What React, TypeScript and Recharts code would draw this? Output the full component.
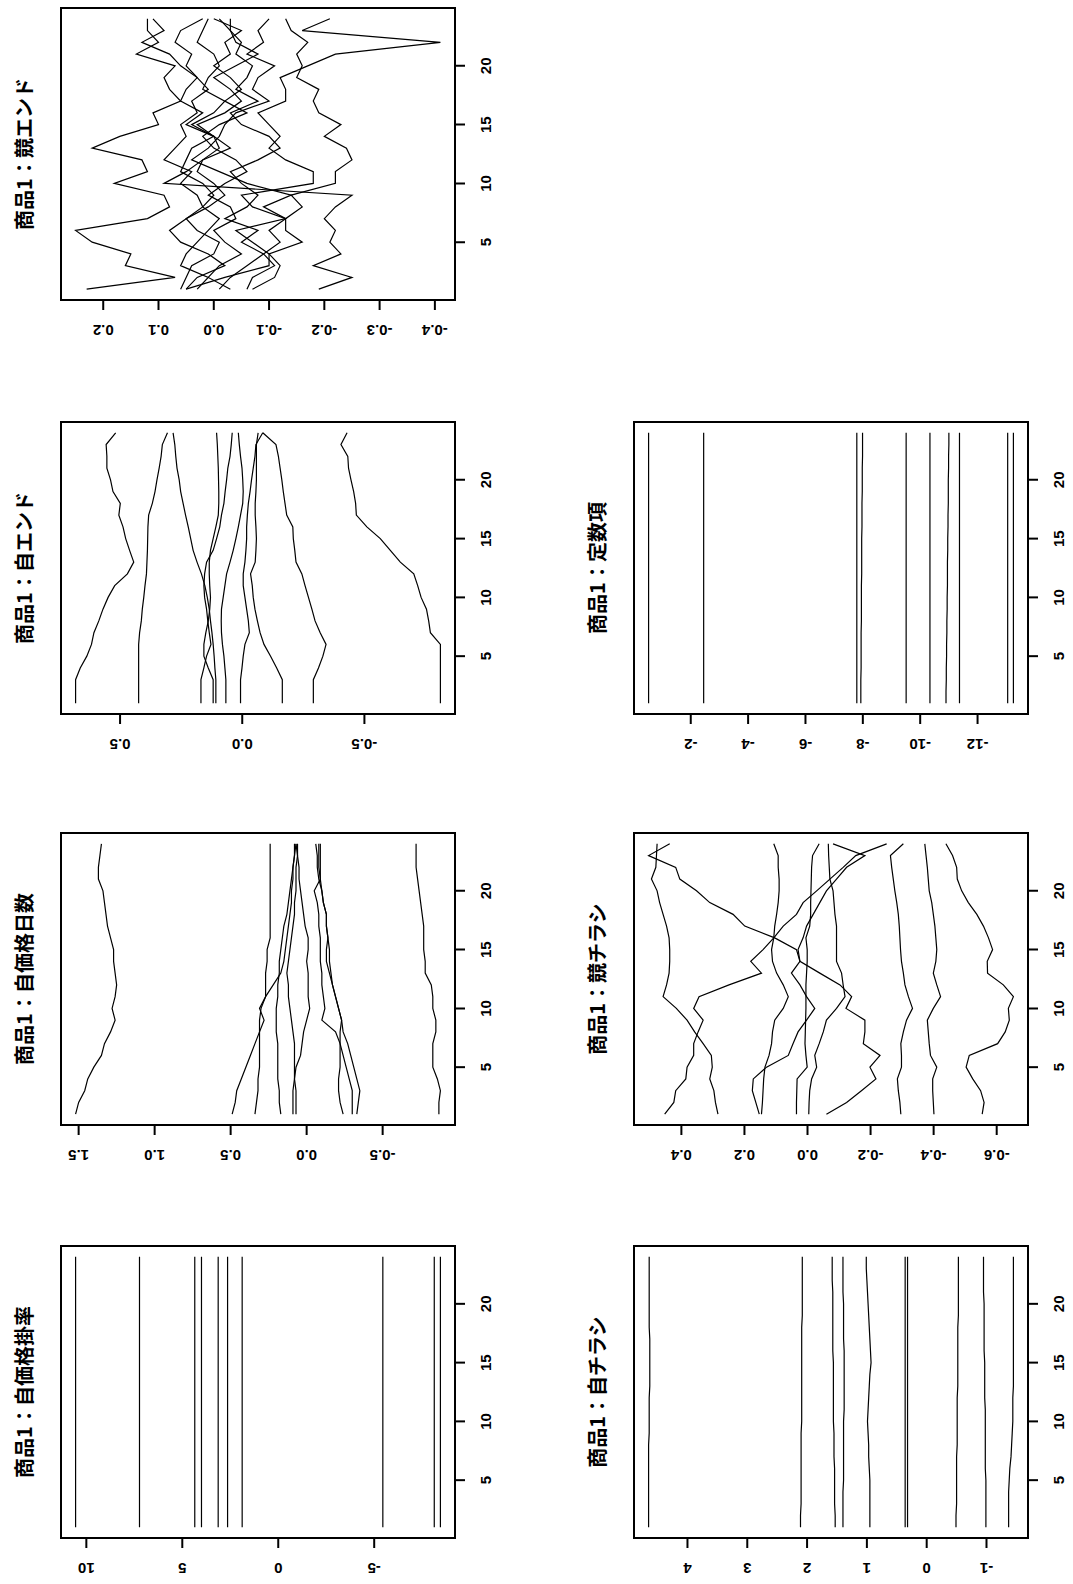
import { LineChart, Line, XAxis, YAxis, ReferenceArea } from 'recharts';

// time index shared by every panel
const periods = [1, 2, 3, 4, 5, 6, 7, 8, 9, 10, 11, 12, 13, 14, 15, 16, 17, 18, 19, 20, 21, 22, 23, 24];
const periodTicks = [5, 10, 15, 20];

// 商品1：自価格掛率
const ownPriceRate = [
  [10.56, 10.56, 10.56, 10.56, 10.56, 10.56, 10.56, 10.56, 10.56, 10.56, 10.56, 10.56, 10.56, 10.56, 10.56, 10.56, 10.56, 10.56, 10.56, 10.56, 10.56, 10.56, 10.56, 10.56],
  [7.23, 7.23, 7.23, 7.23, 7.23, 7.23, 7.23, 7.23, 7.23, 7.23, 7.23, 7.23, 7.23, 7.23, 7.23, 7.23, 7.23, 7.23, 7.23, 7.23, 7.23, 7.23, 7.23, 7.23],
  [4.35, 4.35, 4.35, 4.35, 4.35, 4.35, 4.35, 4.35, 4.35, 4.35, 4.35, 4.35, 4.35, 4.35, 4.35, 4.35, 4.35, 4.35, 4.35, 4.35, 4.35, 4.35, 4.35, 4.35],
  [4.0, 4.0, 4.0, 4.0, 4.0, 4.0, 4.0, 4.0, 4.0, 4.0, 4.0, 4.0, 4.0, 4.0, 4.0, 4.0, 4.0, 4.0, 4.0, 4.0, 4.0, 4.0, 4.0, 4.0],
  [3.13, 3.13, 3.13, 3.13, 3.13, 3.13, 3.13, 3.13, 3.13, 3.13, 3.13, 3.13, 3.13, 3.13, 3.13, 3.13, 3.13, 3.13, 3.13, 3.13, 3.13, 3.13, 3.13, 3.13],
  [2.64, 2.64, 2.64, 2.64, 2.64, 2.64, 2.64, 2.64, 2.64, 2.64, 2.64, 2.64, 2.64, 2.64, 2.64, 2.64, 2.64, 2.64, 2.64, 2.64, 2.64, 2.64, 2.64, 2.64],
  [1.88, 1.88, 1.88, 1.88, 1.88, 1.88, 1.88, 1.88, 1.88, 1.88, 1.88, 1.88, 1.88, 1.88, 1.88, 1.88, 1.88, 1.88, 1.88, 1.88, 1.88, 1.88, 1.88, 1.88],
  [-5.45, -5.45, -5.45, -5.45, -5.45, -5.45, -5.45, -5.45, -5.45, -5.45, -5.45, -5.45, -5.45, -5.45, -5.45, -5.45, -5.45, -5.45, -5.45, -5.45, -5.45, -5.45, -5.45, -5.45],
  [-8.13, -8.13, -8.13, -8.13, -8.13, -8.13, -8.13, -8.13, -8.13, -8.13, -8.13, -8.13, -8.13, -8.13, -8.13, -8.13, -8.13, -8.13, -8.13, -8.13, -8.13, -8.13, -8.13, -8.13],
  [-8.45, -8.45, -8.45, -8.45, -8.45, -8.45, -8.45, -8.45, -8.45, -8.45, -8.45, -8.45, -8.45, -8.45, -8.45, -8.45, -8.45, -8.45, -8.45, -8.45, -8.45, -8.45, -8.45, -8.45],
];

// 商品1：自価格日数
const ownPriceDays = [
  [1.52, 1.5, 1.46, 1.44, 1.4, 1.35, 1.33, 1.29, 1.26, 1.28, 1.26, 1.25, 1.26, 1.27, 1.27, 1.29, 1.31, 1.32, 1.33, 1.34, 1.37, 1.37, 1.36, 1.35],
  [0.49, 0.47, 0.46, 0.43, 0.4, 0.37, 0.34, 0.31, 0.28, 0.31, 0.27, 0.22, 0.17, 0.15, 0.14, 0.13, 0.12, 0.11, 0.1, 0.1, 0.09, 0.09, 0.08, 0.08],
  [0.34, 0.33, 0.32, 0.32, 0.31, 0.31, 0.31, 0.31, 0.31, 0.3, 0.27, 0.27, 0.27, 0.26, 0.26, 0.24, 0.24, 0.24, 0.24, 0.24, 0.24, 0.24, 0.24, 0.24],
  [0.17, 0.18, 0.18, 0.19, 0.19, 0.19, 0.19, 0.2, 0.2, 0.2, 0.19, 0.19, 0.18, 0.18, 0.17, 0.16, 0.15, 0.13, 0.12, 0.11, 0.1, 0.09, 0.08, 0.07],
  [0.09, 0.09, 0.09, 0.08, 0.07, 0.04, 0.03, 0.02, 0.0, -0.02, -0.01, -0.01, -0.01, 0.0, -0.01, -0.01, 0.01, 0.02, 0.03, 0.04, 0.05, 0.05, 0.06, 0.07],
  [0.07, 0.07, 0.07, 0.08, 0.08, 0.08, 0.08, 0.09, 0.1, 0.11, 0.12, 0.12, 0.13, 0.12, 0.11, 0.1, 0.09, 0.08, 0.08, 0.07, 0.07, 0.07, 0.06, 0.06],
  [-0.24, -0.22, -0.21, -0.21, -0.22, -0.22, -0.22, -0.22, -0.23, -0.21, -0.19, -0.17, -0.16, -0.15, -0.15, -0.14, -0.13, -0.13, -0.11, -0.1, -0.09, -0.08, -0.08, -0.08],
  [-0.3, -0.3, -0.3, -0.28, -0.26, -0.24, -0.22, -0.19, -0.1, -0.12, -0.11, -0.1, -0.1, -0.09, -0.09, -0.09, -0.08, -0.08, -0.07, -0.05, -0.09, -0.09, -0.09, -0.09],
  [-0.33, -0.34, -0.35, -0.33, -0.31, -0.29, -0.27, -0.24, -0.23, -0.21, -0.19, -0.17, -0.15, -0.13, -0.13, -0.14, -0.13, -0.13, -0.11, -0.1, -0.08, -0.07, -0.07, -0.06],
  [-0.87, -0.87, -0.88, -0.86, -0.83, -0.83, -0.83, -0.85, -0.85, -0.83, -0.83, -0.82, -0.78, -0.78, -0.77, -0.77, -0.77, -0.76, -0.75, -0.74, -0.73, -0.72, -0.72, -0.72],
];

// 商品1：自エンド
const ownEnd = [
  [0.682, 0.682, 0.682, 0.663, 0.636, 0.617, 0.607, 0.587, 0.57, 0.549, 0.522, 0.47, 0.444, 0.461, 0.477, 0.488, 0.505, 0.499, 0.529, 0.539, 0.554, 0.554, 0.557, 0.518],
  [0.424, 0.424, 0.424, 0.424, 0.424, 0.424, 0.42, 0.413, 0.409, 0.403, 0.398, 0.392, 0.39, 0.388, 0.387, 0.386, 0.383, 0.368, 0.357, 0.349, 0.34, 0.332, 0.327, 0.306],
  [0.108, 0.108, 0.108, 0.112, 0.115, 0.119, 0.124, 0.13, 0.135, 0.143, 0.153, 0.167, 0.185, 0.201, 0.211, 0.221, 0.232, 0.242, 0.252, 0.258, 0.267, 0.272, 0.276, 0.283],
  [0.119, 0.119, 0.119, 0.139, 0.157, 0.157, 0.149, 0.139, 0.133, 0.13, 0.133, 0.135, 0.135, 0.13, 0.119, 0.108, 0.098, 0.096, 0.096, 0.097, 0.098, 0.1, 0.102, 0.105],
  [0.169, 0.169, 0.169, 0.157, 0.146, 0.128, 0.135, 0.141, 0.146, 0.154, 0.157, 0.154, 0.146, 0.119, 0.105, 0.092, 0.085, 0.075, 0.07, 0.064, 0.059, 0.05, 0.045, 0.041],
  [0.067, 0.067, 0.067, 0.071, 0.075, 0.081, 0.085, 0.086, 0.085, 0.078, 0.071, 0.064, 0.05, 0.037, 0.026, 0.016, 0.007, -0.002, -0.004, -0.002, 0.001, 0.007, 0.012, 0.016],
  [0.007, 0.007, 0.007, 0.001, -0.004, -0.011, -0.029, -0.025, -0.018, -0.011, -0.004, -0.004, -0.011, -0.015, -0.018, -0.018, -0.021, -0.025, -0.032, -0.038, -0.045, -0.052, -0.056, -0.084],
  [-0.164, -0.164, -0.164, -0.141, -0.116, -0.089, -0.073, -0.062, -0.052, -0.045, -0.041, -0.034, -0.053, -0.056, -0.058, -0.056, -0.053, -0.053, -0.056, -0.058, -0.058, -0.058, -0.058, -0.065],
  [-0.291, -0.291, -0.291, -0.312, -0.33, -0.343, -0.319, -0.298, -0.285, -0.271, -0.257, -0.244, -0.22, -0.215, -0.209, -0.207, -0.182, -0.175, -0.168, -0.162, -0.155, -0.148, -0.138, -0.084],
  [-0.811, -0.811, -0.811, -0.811, -0.811, -0.811, -0.77, -0.763, -0.754, -0.732, -0.718, -0.702, -0.647, -0.606, -0.565, -0.51, -0.467, -0.464, -0.456, -0.445, -0.435, -0.432, -0.404, -0.429],
];

// 商品1：競エンド
const rivalEnd = [
  [0.23, 0.07, 0.16, 0.15, 0.22, 0.25, 0.12, 0.08, 0.09, 0.18, 0.12, 0.13, 0.22, 0.17, 0.1, 0.11, 0.06, 0.08, 0.09, 0.07, 0.14, 0.1, 0.12, 0.12],
  [0.05, 0.03, -0.02, 0.01, 0.06, 0.08, 0.05, 0.02, 0.03, 0.06, 0.04, 0.09, 0.07, 0.05, 0.06, 0.03, 0.04, 0.01, 0.03, 0.06, 0.08, 0.13, 0.09, 0.11],
  [0.06, 0.05, 0.04, 0.0, -0.01, 0.03, 0.05, 0.01, -0.02, 0.0, 0.03, 0.02, -0.03, 0.0, 0.05, 0.02, 0.06, 0.05, 0.03, 0.05, 0.04, 0.07, 0.06, 0.02],
  [0.03, 0.01, 0.06, 0.05, 0.03, 0.01, -0.01, 0.02, 0.0, 0.02, 0.06, 0.05, 0.04, 0.0, 0.04, 0.0, -0.02, 0.02, 0.01, -0.01, 0.0, 0.03, 0.02, 0.01],
  [-0.01, -0.03, -0.06, -0.09, -0.12, -0.1, -0.13, -0.07, -0.05, -0.18, -0.18, -0.13, -0.1, -0.12, -0.1, -0.08, -0.13, -0.13, -0.12, -0.17, -0.22, -0.41, -0.16, -0.21],
  [-0.03, 0.01, -0.01, -0.05, -0.02, 0.0, -0.04, -0.03, 0.01, -0.02, -0.06, -0.04, 0.0, 0.02, -0.01, -0.06, -0.02, -0.05, -0.03, 0.0, -0.03, -0.02, -0.05, 0.0],
  [-0.06, -0.07, -0.11, -0.09, -0.05, -0.08, -0.02, -0.06, -0.08, -0.05, -0.03, -0.08, -0.12, -0.1, -0.05, -0.03, -0.08, -0.04, -0.06, -0.07, -0.04, -0.05, -0.03, -0.03],
  [-0.07, -0.11, -0.12, -0.1, -0.07, -0.04, -0.13, -0.09, -0.14, -0.06, -0.01, 0.04, 0.01, -0.01, -0.02, -0.04, -0.1, -0.07, -0.08, -0.11, -0.06, -0.09, -0.08, -0.1],
  [-0.19, -0.25, -0.18, -0.23, -0.21, -0.22, -0.2, -0.22, -0.25, 0.09, 0.05, 0.02, -0.01, 0.0, 0.03, -0.02, -0.05, -0.03, 0.0, -0.04, -0.08, -0.04, -0.03, -0.01],
  [0.05, -0.02, -0.1, -0.1, -0.16, -0.13, -0.13, -0.16, -0.14, -0.22, -0.22, -0.25, -0.24, -0.2, -0.23, -0.19, -0.18, -0.19, -0.15, -0.16, -0.15, -0.17, -0.14, -0.13],
];

// 商品1：自チラシ
const ownFlyer = [
  [4.65, 4.65, 4.65, 4.65, 4.65, 4.65, 4.65, 4.65, 4.64, 4.64, 4.64, 4.64, 4.63, 4.63, 4.63, 4.63, 4.63, 4.64, 4.64, 4.64, 4.64, 4.64, 4.64, 4.64],
  [2.11, 2.11, 2.1, 2.1, 2.1, 2.1, 2.1, 2.1, 2.1, 2.09, 2.09, 2.09, 2.09, 2.09, 2.09, 2.09, 2.09, 2.09, 2.08, 2.08, 2.08, 2.08, 2.08, 2.08],
  [1.53, 1.53, 1.54, 1.54, 1.54, 1.54, 1.55, 1.55, 1.55, 1.56, 1.56, 1.56, 1.56, 1.56, 1.56, 1.57, 1.57, 1.57, 1.57, 1.57, 1.57, 1.58, 1.58, 1.58],
  [1.4, 1.4, 1.4, 1.4, 1.39, 1.39, 1.39, 1.39, 1.39, 1.39, 1.38, 1.38, 1.38, 1.38, 1.38, 1.38, 1.39, 1.39, 1.39, 1.39, 1.4, 1.4, 1.4, 1.4],
  [0.95, 0.95, 0.95, 0.95, 0.95, 0.96, 0.97, 0.97, 0.98, 0.99, 0.98, 0.97, 0.96, 0.95, 0.93, 0.94, 0.95, 0.96, 0.97, 0.98, 0.99, 1.0, 1.01, 1.01],
  [0.36, 0.36, 0.36, 0.36, 0.36, 0.36, 0.36, 0.36, 0.36, 0.36, 0.36, 0.36, 0.36, 0.36, 0.36, 0.36, 0.36, 0.36, 0.36, 0.36, 0.36, 0.36, 0.36, 0.36],
  [0.32, 0.32, 0.32, 0.32, 0.32, 0.32, 0.32, 0.32, 0.32, 0.32, 0.32, 0.32, 0.32, 0.32, 0.32, 0.32, 0.32, 0.32, 0.32, 0.32, 0.32, 0.32, 0.32, 0.32],
  [-0.49, -0.49, -0.5, -0.5, -0.5, -0.5, -0.5, -0.51, -0.51, -0.51, -0.51, -0.51, -0.52, -0.52, -0.52, -0.52, -0.52, -0.52, -0.53, -0.53, -0.53, -0.53, -0.53, -0.53],
  [-0.99, -0.99, -0.99, -0.99, -0.99, -0.98, -0.98, -0.98, -0.98, -0.98, -0.98, -0.97, -0.97, -0.97, -0.97, -0.96, -0.96, -0.96, -0.96, -0.96, -0.95, -0.95, -0.95, -0.95],
  [-1.37, -1.37, -1.37, -1.37, -1.38, -1.39, -1.41, -1.42, -1.43, -1.44, -1.44, -1.44, -1.45, -1.45, -1.45, -1.45, -1.45, -1.45, -1.45, -1.45, -1.45, -1.45, -1.45, -1.45],
];

// 商品1：競チラシ
const rivalFlyer = [
  [0.453, 0.424, 0.418, 0.386, 0.382, 0.361, 0.361, 0.347, 0.331, 0.361, 0.344, 0.249, 0.146, 0.18, 0.141, 0.107, 0.077, 0.035, 0.014, -0.029, -0.071, -0.113, -0.153, -0.251],
  [-0.06, -0.124, -0.171, -0.217, -0.198, -0.23, -0.177, -0.182, -0.182, -0.122, -0.14, -0.103, -0.039, 0.024, 0.035, 0.104, 0.199, 0.236, 0.31, 0.352, 0.405, 0.418, 0.504, 0.437],
  [0.153, 0.164, 0.175, 0.172, 0.13, 0.061, 0.046, 0.03, 0.003, -0.023, 0.003, 0.024, 0.051, 0.024, 0.03, 0.014, 0.003, -0.018, -0.039, -0.06, -0.092, -0.124, -0.182, -0.081],
  [0.146, 0.143, 0.141, 0.139, 0.135, 0.122, 0.114, 0.111, 0.104, 0.077, 0.061, 0.077, 0.098, 0.111, 0.114, 0.107, 0.104, 0.098, 0.093, 0.09, 0.09, 0.093, 0.093, 0.107],
  [0.035, 0.035, 0.034, 0.033, 0.001, 0.005, 0.008, 0.007, 0.006, 0.005, 0.005, 0.005, 0.003, 0.001, 0.001, 0.005, -0.007, -0.01, -0.01, -0.011, -0.012, -0.013, -0.016, -0.037],
  [-0.004, -0.005, -0.007, -0.013, -0.029, -0.023, -0.037, -0.05, -0.06, -0.092, -0.119, -0.113, -0.108, -0.092, -0.092, -0.092, -0.092, -0.087, -0.084, -0.081, -0.071, -0.069, -0.067, -0.066],
  [-0.296, -0.293, -0.288, -0.285, -0.298, -0.298, -0.296, -0.304, -0.314, -0.333, -0.32, -0.309, -0.304, -0.298, -0.295, -0.293, -0.291, -0.288, -0.283, -0.277, -0.272, -0.267, -0.263, -0.304],
  [-0.401, -0.399, -0.397, -0.397, -0.41, -0.39, -0.386, -0.383, -0.38, -0.399, -0.422, -0.41, -0.399, -0.407, -0.41, -0.407, -0.404, -0.399, -0.394, -0.386, -0.383, -0.38, -0.376, -0.372],
  [-0.554, -0.56, -0.549, -0.524, -0.503, -0.513, -0.603, -0.627, -0.64, -0.637, -0.653, -0.621, -0.571, -0.57, -0.587, -0.574, -0.558, -0.537, -0.51, -0.489, -0.475, -0.473, -0.46, -0.439],
  [0.284, 0.292, 0.297, 0.31, 0.302, 0.305, 0.331, 0.358, 0.382, 0.416, 0.458, 0.447, 0.439, 0.437, 0.437, 0.439, 0.447, 0.458, 0.469, 0.477, 0.495, 0.481, 0.479, 0.477],
];

// 商品1：定数項
const intercept = [
  [-0.53, -0.53, -0.53, -0.53, -0.53, -0.53, -0.53, -0.53, -0.53, -0.53, -0.53, -0.53, -0.53, -0.53, -0.53, -0.53, -0.53, -0.53, -0.53, -0.53, -0.53, -0.53, -0.53, -0.53],
  [-2.45, -2.45, -2.45, -2.45, -2.45, -2.45, -2.45, -2.45, -2.45, -2.45, -2.45, -2.45, -2.45, -2.45, -2.45, -2.45, -2.45, -2.45, -2.45, -2.45, -2.45, -2.45, -2.45, -2.45],
  [-7.79, -7.79, -7.79, -7.79, -7.79, -7.79, -7.79, -7.79, -7.79, -7.79, -7.79, -7.79, -7.79, -7.79, -7.79, -7.79, -7.79, -7.79, -7.79, -7.79, -7.79, -7.79, -7.79, -7.79],
  [-7.93, -7.93, -7.93, -7.94, -7.94, -7.94, -7.94, -7.95, -7.95, -7.95, -7.95, -7.96, -7.96, -7.96, -7.96, -7.97, -7.97, -7.97, -7.98, -7.98, -7.98, -7.99, -7.99, -7.99],
  [-9.51, -9.51, -9.51, -9.51, -9.51, -9.51, -9.51, -9.51, -9.51, -9.51, -9.51, -9.51, -9.51, -9.51, -9.51, -9.51, -9.51, -9.51, -9.51, -9.51, -9.51, -9.51, -9.51, -9.51],
  [-10.34, -10.34, -10.34, -10.34, -10.34, -10.34, -10.34, -10.34, -10.34, -10.34, -10.34, -10.34, -10.34, -10.34, -10.34, -10.34, -10.34, -10.34, -10.34, -10.34, -10.34, -10.34, -10.34, -10.34],
  [-10.9, -10.9, -10.91, -10.91, -10.92, -10.92, -10.93, -10.93, -10.94, -10.94, -10.95, -10.95, -10.95, -10.96, -10.96, -10.97, -10.97, -10.98, -10.98, -10.98, -10.99, -10.99, -11.0, -11.0],
  [-11.37, -11.37, -11.37, -11.37, -11.37, -11.37, -11.37, -11.37, -11.37, -11.37, -11.37, -11.37, -11.37, -11.37, -11.37, -11.37, -11.37, -11.37, -11.37, -11.37, -11.37, -11.37, -11.37, -11.37],
  [-13.05, -13.05, -13.05, -13.05, -13.05, -13.05, -13.05, -13.05, -13.05, -13.05, -13.05, -13.05, -13.05, -13.05, -13.05, -13.05, -13.05, -13.05, -13.05, -13.05, -13.05, -13.05, -13.05, -13.05],
  [-13.25, -13.25, -13.25, -13.25, -13.25, -13.25, -13.25, -13.25, -13.25, -13.25, -13.25, -13.25, -13.25, -13.25, -13.25, -13.25, -13.25, -13.25, -13.25, -13.25, -13.25, -13.25, -13.25, -13.25],
];

interface PanelSpec {
  title: string;
  series: number[][];
  ticks: number[];
  digits: number;
  col: number;
  row: number;
}

const panels: PanelSpec[] = [
  { title: '商品1：自価格掛率', series: ownPriceRate, ticks: [-5, 0, 5, 10], digits: 0, col: 0, row: 0 },
  { title: '商品1：自価格日数', series: ownPriceDays, ticks: [-0.5, 0, 0.5, 1.0, 1.5], digits: 1, col: 1, row: 0 },
  { title: '商品1：自エンド', series: ownEnd, ticks: [-0.5, 0, 0.5], digits: 1, col: 2, row: 0 },
  { title: '商品1：競エンド', series: rivalEnd, ticks: [-0.4, -0.3, -0.2, -0.1, 0, 0.1, 0.2], digits: 1, col: 3, row: 0 },
  { title: '商品1：自チラシ', series: ownFlyer, ticks: [-1, 0, 1, 2, 3, 4], digits: 0, col: 0, row: 1 },
  { title: '商品1：競チラシ', series: rivalFlyer, ticks: [-0.6, -0.4, -0.2, 0, 0.2, 0.4], digits: 1, col: 1, row: 1 },
  { title: '商品1：定数項', series: intercept, ticks: [-12, -10, -8, -6, -4, -2], digits: 0, col: 2, row: 1 },
];

// page is laid out landscape (1584 x 1073) and turned a quarter to fit the portrait sheet
const PAGE_W = 1584;
const PAGE_H = 1073;
const BOX_W = 292;
const BOX_H = 394;
const COL_LEFT = [46, 459, 870, 1284];
const ROW_TOP = [61, 634];
const AXIS_W = 60;
const AXIS_H = 50;
const PAD = 4;

const LABEL_FONT = '"Liberation Sans", Arial, sans-serif';
const TITLE_FONT = '"Noto Sans CJK JP", "Noto Sans CJK SC", sans-serif';

// R-style axis range: data extent plus 4% on each side
function rRange(values: number[]): [number, number] {
  const lo = Math.min(...values);
  const hi = Math.max(...values);
  const pad = (hi - lo) * 0.04;
  return [lo - pad, hi + pad];
}

function toRows(series: number[][]) {
  return periods.map((p, i) => {
    const row: Record<string, number> = { x: p };
    series.forEach((s, j) => {
      row[`s${j}`] = s[i];
    });
    return row;
  });
}

function PeriodTick({ x, y, payload }: any) {
  return (
    <text
      x={x}
      y={y + 20}
      textAnchor="middle"
      dominantBaseline="central"
      fontSize={15}
      fontWeight={700}
      fontFamily={LABEL_FONT}
      fill="#000"
    >
      {payload.value}
    </text>
  );
}

function makeValueTick(digits: number) {
  return ({ x, y, payload }: any) => {
    const cx = x - 20;
    return (
      <text
        x={cx}
        y={y}
        transform={`rotate(-90 ${cx} ${y})`}
        textAnchor="middle"
        dominantBaseline="central"
        fontSize={15}
        fontWeight={700}
        fontFamily={LABEL_FONT}
        fill="#000"
      >
        {Number(payload.value).toFixed(digits)}
      </text>
    );
  };
}

function Panel({ spec }: { spec: PanelSpec }) {
  const rows = toRows(spec.series);
  const xDomain = rRange(periods);
  const yDomain = rRange(spec.series.flat());
  const left = COL_LEFT[spec.col];
  const top = ROW_TOP[spec.row];
  const tickLine = { stroke: '#000', strokeWidth: 2 };

  return (
    <>
      <div
        style={{
          position: 'absolute',
          left,
          top: top - 37 - 15,
          width: BOX_W,
          height: 30,
          lineHeight: '30px',
          textAlign: 'center',
          fontFamily: TITLE_FONT,
          fontWeight: 700,
          fontSize: 20,
          whiteSpace: 'nowrap',
          color: '#000',
        }}
      >
        {spec.title}
      </div>
      <div style={{ position: 'absolute', left: left - AXIS_W, top: top - PAD }}>
        <LineChart
          width={AXIS_W + BOX_W + PAD}
          height={PAD + BOX_H + AXIS_H}
          data={rows}
          margin={{ top: PAD, right: PAD, bottom: 0, left: 0 }}
        >
          <XAxis
            type="number"
            dataKey="x"
            domain={xDomain}
            ticks={periodTicks}
            allowDataOverflow
            axisLine={false}
            tickLine={tickLine}
            tickSize={10}
            tickMargin={0}
            tick={PeriodTick}
            height={AXIS_H}
          />
          <YAxis
            type="number"
            domain={yDomain}
            ticks={spec.ticks}
            allowDataOverflow
            axisLine={false}
            tickLine={tickLine}
            tickSize={10}
            tickMargin={0}
            tick={makeValueTick(spec.digits)}
            width={AXIS_W}
          />
          <ReferenceArea
            x1={xDomain[0]}
            x2={xDomain[1]}
            y1={yDomain[0]}
            y2={yDomain[1]}
            fill="none"
            stroke="#000"
            strokeWidth={2}
            ifOverflow="visible"
          />
          {spec.series.map((_, i) => (
            <Line
              key={i}
              type="linear"
              dataKey={`s${i}`}
              stroke="#000"
              strokeWidth={1.2}
              dot={false}
              activeDot={false}
              isAnimationActive={false}
            />
          ))}
        </LineChart>
      </div>
    </>
  );
}

export default function App() {
  return (
    <div style={{ position: 'absolute', left: 0, top: 0, width: PAGE_H, height: PAGE_W, overflow: 'hidden', background: '#fff' }}>
      <div
        style={{
          position: 'absolute',
          left: 0,
          top: 0,
          width: PAGE_W,
          height: PAGE_H,
          transformOrigin: '0 0',
          transform: `translate(0px, ${PAGE_W}px) rotate(-90deg)`,
        }}
      >
        {panels.map((p) => (
          <Panel key={p.title} spec={p} />
        ))}
      </div>
    </div>
  );
}
